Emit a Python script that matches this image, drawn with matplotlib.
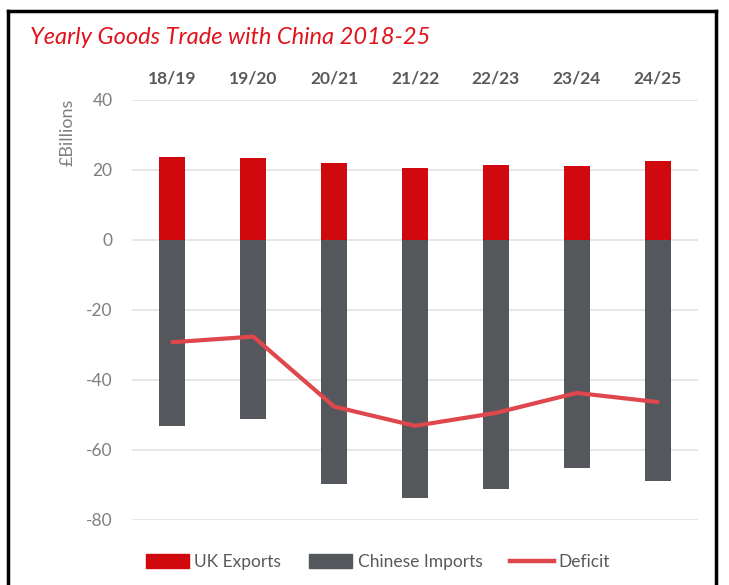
import matplotlib
matplotlib.use("Agg")
import matplotlib.pyplot as plt
from matplotlib.lines import Line2D
from matplotlib.patches import Patch

plt.rcParams['font.family'] = ['Lato', 'DejaVu Sans']

years = ["18/19", "19/20", "20/21", "21/22", "22/23", "23/24", "24/25"]
uk_exports = [23.7, 23.4, 22.1, 20.7, 21.4, 21.1, 22.5]
chinese_imports = [-53.0, -51.1, -69.7, -73.7, -71.1, -65.1, -68.9]
deficit = [-29.2, -27.6, -47.6, -53.1, -49.4, -43.7, -46.3]
yticks = [40, 20, 0, -20, -40, -60, -80]

W, H = 729, 585
fig = plt.figure(figsize=(W / 100, H / 100), dpi=100)
fig.patch.set_facecolor("white")

# axes in pixel coordinates: left 132, right 698, top y=100 (40), bottom y=520 (-80)
ax = fig.add_axes([132 / W, 1 - 520 / H, (698 - 132) / W, (520 - 100) / H])
ax.set_facecolor("white")

red = "#D0090F"
grey = "#54585C"
line_red = "#E0474C"

x = list(range(len(years)))
ax.bar(x, uk_exports, width=0.32, color=red, zorder=3)
ax.bar(x, chinese_imports, width=0.32, color=grey, zorder=3)
ax.plot(x, deficit, color=line_red, lw=3.0, zorder=4, solid_capstyle="round")

ax.set_xlim(-0.5, 6.5)
ax.set_ylim(-80, 40)
ax.set_yticks(yticks)
ax.set_yticklabels([str(v) for v in yticks], color="#7F7F7F", fontsize=12.5)
ax.tick_params(axis="y", length=0, pad=14)
ax.grid(axis="y", color="#E4E4E4", lw=1.3, zorder=0)
ax.set_axisbelow(True)

ax.xaxis.tick_top()
ax.set_xticks(x)
ax.set_xticklabels(years, fontsize=12.5, fontweight="bold", color="#595959")
ax.tick_params(axis="x", length=0, pad=10)

for s in ax.spines.values():
    s.set_visible(False)

ax.set_ylabel("£Billions", fontsize=13, color="#7F7F7F", labelpad=6)
ax.yaxis.set_label_coords(-(132 - 76) / (698 - 132), (520 - 132) / 420)

fig.text(30 / W, 1 - 37 / H, "Yearly Goods Trade with China 2018-25", color="#E0141C",
         fontsize=17, fontstyle="italic", va="center", ha="left")

handles = [Patch(color=red), Patch(color=grey), Line2D([0], [0], color=line_red, lw=3.2)]
labels = ["UK Exports", "Chinese Imports", "Deficit"]
fig.legend(handles, labels, loc="center", bbox_to_anchor=(378 / W, 1 - 562 / H),
           ncol=3, frameon=False, fontsize=12.5, handlelength=2.5, handleheight=0.9,
           handletextpad=0.3, columnspacing=1.6, labelcolor="#595959")

# black frame (top, left, right)
lw = 2.5
fig.add_artist(Line2D([8 / W, 716 / W], [1 - 11 / H, 1 - 11 / H], color="black", lw=lw,
                      transform=fig.transFigure))
fig.add_artist(Line2D([8 / W, 8 / W], [1 - 11 / H, 0], color="black", lw=lw,
                      transform=fig.transFigure))
fig.add_artist(Line2D([716 / W, 716 / W], [1 - 11 / H, 0], color="black", lw=lw,
                      transform=fig.transFigure))

fig.savefig("out.png", dpi=100)
